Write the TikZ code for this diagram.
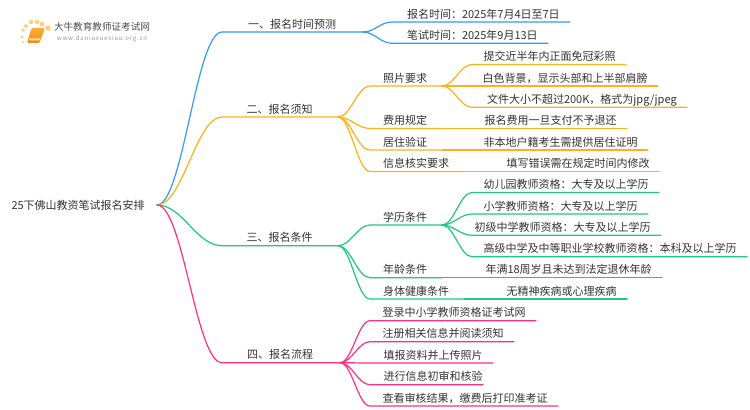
\documentclass[tikz,border=0pt]{standalone}
\usepackage{fontspec}
\setmainfont{Noto Sans CJK SC}
\usetikzlibrary{calc}
\definecolor{inkgrey}{HTML}{333333}
\definecolor{bluebranch}{HTML}{3399FF}
\definecolor{orangebranch}{HTML}{FFB11B}
\definecolor{greenbranch}{HTML}{1DC97E}
\definecolor{pinkbranch}{HTML}{FF2E85}
\definecolor{booktop}{HTML}{FBB034}
\definecolor{bookfoot}{HTML}{F08A12}
\definecolor{dotyellow}{HTML}{FBD27A}
\tikzset{
  topic/.style={anchor=south east,inner xsep=#1,inner ysep=0pt,text height=8.5pt,text depth=2.6pt,
    text=inkgrey,font=\fontsize{8.25}{10}\selectfont},
  topic/.default=7.5pt,
  link/.style={line width=.9pt,line cap=round},
  logodot/.style={circle,fill=dotyellow,inner sep=0pt,minimum size=#1}
}
% curve to the height of the child, then straight along under its text
\newcommand{\linkto}[4]{%
  \coordinate (bend) at ($(#2)+(#4,0)$);
  \draw[link,#1] (#2) .. controls +(.4*#4,0) and ($(bend |- #3.south east)+(-.4*#4,0)$) .. (bend |- #3.south east) -- (#3.south east);
}
\begin{document}
\begin{tikzpicture}[x=.75pt,y=-.75pt]
\useasboundingbox (0,0) rectangle (750,410);
% logo
\foreach \px/\py/\ds in {23/42/2pt,22/37/2.4pt,23/30/2.8pt,26/26/3pt,31/22/3.2pt,37/22/3.4pt,42/24/3.6pt,48/28/4.2pt}
  \node[logodot=\ds] at (\px,\py) {};
\shade[top color=booktop,bottom color=bookfoot,rounded corners=1pt] (31.5,28) -- (45,28) -- (39.5,43) -- (27,43) -- cycle;
\fill[white!70!bookfoot] (29.5,38.5) -- (40.5,38.5) -- (39.8,40.4) -- (29,40.4) -- cycle;
\node[inner sep=0pt,text=black!70,font=\fontsize{7.2}{9}\selectfont] (logotitle) at (102,27) {大牛教育教师证考试网};
\node[inner sep=0pt,text=black!40,font=\fontsize{4.6}{6}\selectfont\addfontfeature{LetterSpace=12}] (logourl) at (102,39) {www.daniuxuexiao.org.cn};
% root
\node[inner xsep=9pt,inner ysep=0pt,text=inkgrey,font=\fontsize{8.25}{10}\selectfont,anchor=east] (root) at (157,205) {25下佛山教资笔试报名安排};
% main branches
\node[topic=20pt] (time) at (363,32) {一、报名时间预测};
\node[topic=18.75pt] (notice) at (338,117) {二、报名须知};
\node[topic=18.75pt] (cond) at (338,245.7) {三、报名条件};
\node[topic=20pt] (flow) at (340,362.7) {四、报名流程};
% time
\node[topic] (regtime) at (570,22) {报名时间：2025年7月4日至7日};
\node[topic] (examtime) at (548,43.3) {笔试时间：2025年9月13日};
% notice
\node[topic=11pt] (photo) at (442,86) {照片要求};
\node[topic=11pt] (fee) at (442,128.5) {费用规定};
\node[topic=11pt] (home) at (442,150) {居住验证};
\node[topic=11pt] (check) at (464,171.5) {信息核实要求};
\node[topic] (photoa) at (626,64.5) {提交近半年内正面免冠彩照};
\node[topic] (photob) at (658,86) {白色背景，显示头部和上半部肩膀};
\node[topic] (photoc) at (687,107.3) {文件大小不超过200K，格式为jpg/jpeg};
\node[topic] (feea) at (627,128.5) {报名费用一旦支付不予退还};
\node[topic] (homea) at (648,150) {非本地户籍考生需提供居住证明};
\node[topic] (checka) at (660,171.5) {填写错误需在规定时间内修改};
% conditions
\node[topic=11pt] (edu) at (442,225) {学历条件};
\node[topic=11pt] (age) at (442,277.7) {年龄条件};
\node[topic=11pt] (body) at (464,299) {身体健康条件};
\node[topic] (edua) at (659,192.5) {幼儿园教师资格：大专及以上学历};
\node[topic] (edub) at (648,214) {小学教师资格：大专及以上学历};
\node[topic] (educ) at (661,235.3) {初级中学教师资格：大专及以上学历};
\node[topic] (edud) at (747,256.7) {高级中学及中等职业学校教师资格：本科及以上学历};
\node[topic] (agea) at (662,277.7) {年满18周岁且未达到法定退休年龄};
\node[topic] (bodya) at (627,299) {无精神疾病或心理疾病};
% process
\node[topic] (flowa) at (536,320.7) {登录中小学教师资格证考试网};
\node[topic] (flowb) at (514,341.7) {注册相关信息并阅读须知};
\node[topic] (flowc) at (493,363) {填报资料并上传照片};
\node[topic=0pt] (flowd) at (483,384.7) {进行信息初审和核验};
\node[topic] (flowe) at (558,406) {查看审核结果，缴费后打印准考证};
% connectors
\foreach \kid/\col in {time/bluebranch,notice/orangebranch,cond/greenbranch,flow/pinkbranch}
  \linkto{\col}{root.east}{\kid}{65};
\foreach \kid in {regtime,examtime}
  \linkto{bluebranch}{time.south east}{\kid}{29};
\foreach \kid in {photo,fee,home,check}
  \linkto{orangebranch}{notice.south east}{\kid}{32};
\foreach \kid in {photoa,photob,photoc}
  \linkto{orangebranch}{photo.south east}{\kid}{30};
\foreach \src/\kid in {fee/feea,home/homea,check/checka}
  \draw[link,orangebranch] (\src.south east) -- (\kid.south east);
\foreach \kid in {edu,age,body}
  \linkto{greenbranch}{cond.south east}{\kid}{32};
\foreach \kid in {edua,edub,educ,edud}
  \linkto{greenbranch}{edu.south east}{\kid}{30};
\foreach \src/\kid in {age/agea,body/bodya}
  \draw[link,greenbranch] (\src.south east) -- (\kid.south east);
\foreach \kid in {flowa,flowb,flowc,flowd,flowe}
  \linkto{pinkbranch}{flow.south east}{\kid}{30};
\end{tikzpicture}
\end{document}
